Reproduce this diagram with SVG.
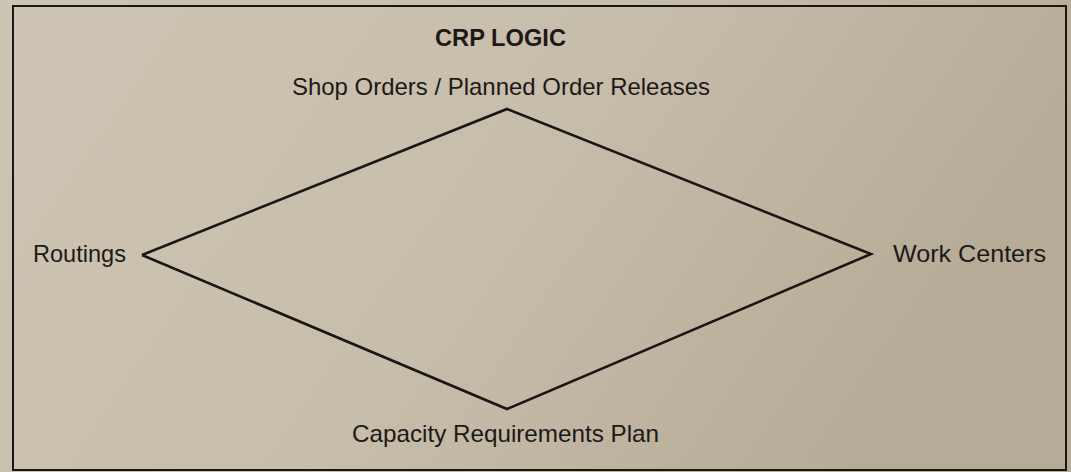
<svg xmlns="http://www.w3.org/2000/svg" width="1071" height="472" viewBox="0 0 1071 472">
  <defs>
    <linearGradient id="paper" x1="0" y1="0" x2="1" y2="0.3">
      <stop offset="0" stop-color="#cec4b3"/>
      <stop offset="0.55" stop-color="#c7bdab"/>
      <stop offset="1" stop-color="#b6ab96"/>
    </linearGradient>
    <style>
      .label { font-family: "Liberation Sans", Arial, sans-serif; font-size: 24px; fill: #1c1917; }
      .title { font-family: "Liberation Sans", Arial, sans-serif; font-size: 23.5px; font-weight: bold; fill: #1c1917; }
      .edge { fill: none; stroke: #1a1614; stroke-width: 2.6; stroke-linejoin: miter; }
      .frame { fill: none; stroke: #1a1614; stroke-width: 2; }
    </style>
  </defs>

  <rect x="0" y="0" width="1071" height="472" fill="url(#paper)"/>
  <rect class="frame" x="13" y="6" width="1053" height="464"/>

  <text class="title" x="435" y="46" textLength="131" lengthAdjust="spacingAndGlyphs">CRP LOGIC</text>

  <!-- diamond edges linking the four inputs/outputs -->
  <g id="connectors">
    <polyline class="edge" points="142,255 507,109 871,254 507,409 142,255"/>
  </g>

  <g id="node-shop-orders">
    <text class="label" x="292" y="95" textLength="418" lengthAdjust="spacingAndGlyphs">Shop Orders / Planned Order Releases</text>
  </g>
  <g id="node-routings">
    <text class="label" x="33" y="262" textLength="93" lengthAdjust="spacingAndGlyphs">Routings</text>
  </g>
  <g id="node-work-centers">
    <text class="label" x="893" y="262" textLength="153" lengthAdjust="spacingAndGlyphs">Work Centers</text>
  </g>
  <g id="node-capacity-plan">
    <text class="label" x="352" y="442" textLength="307" lengthAdjust="spacingAndGlyphs">Capacity Requirements Plan</text>
  </g>
</svg>
